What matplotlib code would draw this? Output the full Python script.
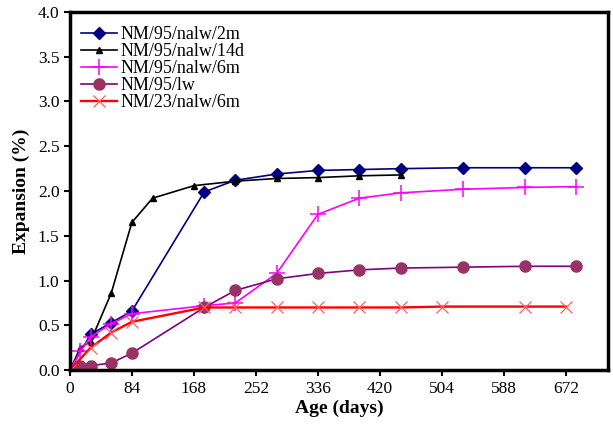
import matplotlib.pyplot as plt

plt.rcParams['font.family'] = ['Liberation Serif', 'DejaVu Serif']

# Datos
dias_2m = [0, 28, 56, 84, 182, 224, 280, 336, 392, 448, 532, 616, 686]
exp_2m = [0.0, 0.40, 0.53, 0.66, 1.99, 2.12, 2.19, 2.23, 2.24, 2.25, 2.26, 2.26, 2.26]

dias_14d = [0, 14, 28, 56, 84, 112, 168, 224, 280, 336, 392, 448]
exp_14d = [0.0, 0.25, 0.32, 0.86, 1.65, 1.92, 2.06, 2.11, 2.14, 2.15, 2.17, 2.18]

dias_6m = [0, 14, 28, 56, 84, 182, 224, 280, 336, 392, 448, 532, 616, 686]
exp_6m = [0.0, 0.21, 0.37, 0.52, 0.63, 0.72, 0.75, 1.08, 1.74, 1.92, 1.98, 2.02, 2.04, 2.05]

dias_lw = [0, 14, 28, 56, 84, 182, 224, 280, 336, 392, 448, 532, 616, 686]
exp_lw = [0.0, 0.05, 0.05, 0.08, 0.19, 0.70, 0.89, 1.02, 1.08, 1.12, 1.14, 1.15, 1.16, 1.16]

dias_23 = [0, 28, 56, 84, 182, 224, 280, 336, 392, 448, 504, 616, 672]
exp_23 = [0.0, 0.25, 0.42, 0.54, 0.70, 0.70, 0.70, 0.70, 0.70, 0.70, 0.71, 0.71, 0.71]

xticks = [0, 84, 168, 252, 336, 420, 504, 588, 672]
yticks = [0.0, 0.5, 1.0, 1.5, 2.0, 2.5, 3.0, 3.5, 4.0]

fig = plt.figure(figsize=(6.13, 4.25), dpi=100)
ax = fig.add_axes([0.114, 0.129, 0.878, 0.843])

ax.plot(dias_2m, exp_2m, color='#000080', marker='D', markersize=6.5, lw=1.2,
        label='NM/95/nalw/2m')
ax.plot(dias_14d, exp_14d, color='black', marker='^', markersize=5, lw=1.2,
        label='NM/95/nalw/14d')
ax.plot(dias_6m, exp_6m, color='#FF00FF', marker='+', markersize=11, mew=1.1, lw=1.2,
        label='NM/95/nalw/6m')
ax.plot(dias_lw, exp_lw, color='#800080', marker='o', markersize=8,
        markerfacecolor='#993366', markeredgecolor='#993366', lw=1.2,
        label='NM/95/lw')
ax.plot(dias_23, exp_23, color='#FF0000', marker='x', markersize=8, mew=0.9,
        markeredgecolor='#FF6060', lw=1.7, label='NM/23/nalw/6m')

ax.set_xlim(0, 729)
ax.set_ylim(0, 4.0)
ax.set_xticks(xticks)
ax.set_yticks(yticks)
ax.set_yticklabels(['%.1f' % v for v in yticks])
ax.tick_params(labelsize=12.5, width=1.5, length=4, direction='out')

for s in ax.spines.values():
    s.set_linewidth(2.5)

ax.set_xlabel('Age (days)', fontsize=14, fontweight='bold', labelpad=2)
ax.set_ylabel('Expansion (%)', fontsize=14, fontweight='bold', labelpad=6)

ax.legend(loc='upper left', frameon=False, fontsize=13, handlelength=2.0,
          handletextpad=0.2, labelspacing=0.0, borderaxespad=0.2,
          bbox_to_anchor=(0.0, 0.99))

fig.savefig('out.png', dpi=100)
